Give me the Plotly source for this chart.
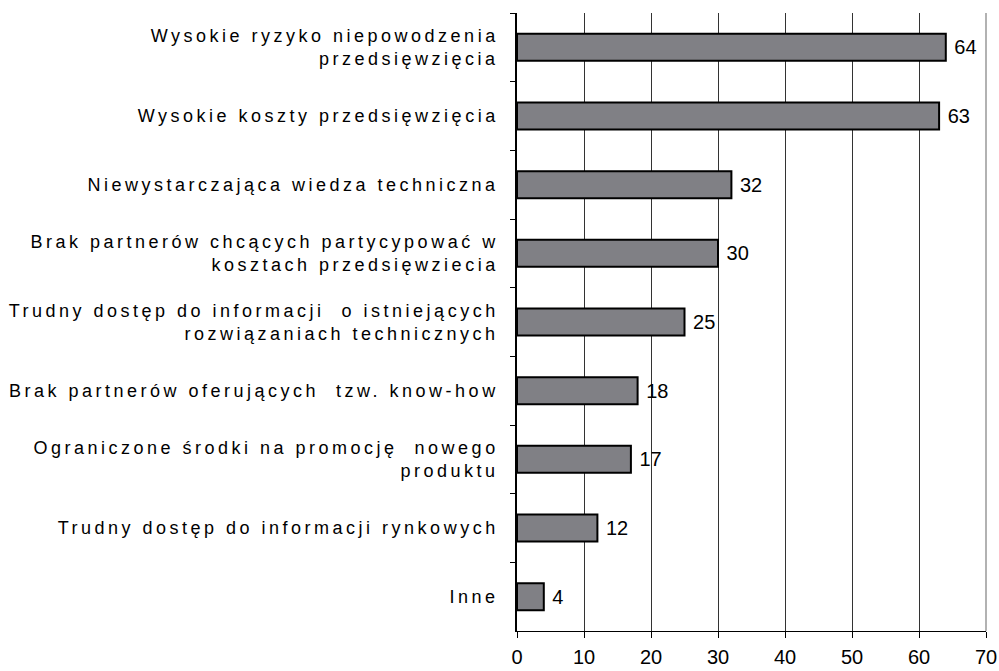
import plotly.graph_objects as go

categories = [
    "Wysokie ryzyko niepowodzenia<br>przedsięwzięcia",
    "Wysokie koszty przedsięwzięcia",
    "Niewystarczająca wiedza techniczna",
    "Brak partnerów chcących partycypować w<br>kosztach przedsięwziecia",
    "Trudny dostęp do informacji  o istniejących<br>rozwiązaniach technicznych",
    "Brak partnerów oferujących  tzw. know-how",
    "Ograniczone środki na promocję  nowego<br>produktu",
    "Trudny dostęp do informacji rynkowych",
    "Inne",
]
values = [64, 63, 32, 30, 25, 18, 17, 12, 4]
x_ticks = [0, 10, 20, 30, 40, 50, 60, 70]

FONT = "Liberation Sans, Arial, sans-serif"

fig = go.Figure(
    go.Bar(
        x=values,
        y=categories,
        orientation="h",
        marker=dict(color="#808085", line=dict(color="#000000", width=2)),
        text=[" " + str(v) for v in values],
        textposition="outside",
        textfont=dict(family=FONT, size=20, color="#000"),
        cliponaxis=False,
        hoverinfo="skip",
    )
)

fig.update_layout(
    width=999,
    height=671,
    margin=dict(l=517, r=13, t=13, b=40),
    paper_bgcolor="white",
    plot_bgcolor="white",
    bargap=0.607,
    showlegend=False,
    font=dict(family=FONT, color="#000"),
    shapes=[
        dict(type="line", xref="paper", yref="paper", x0=1, x1=1, y0=0, y1=1,
             line=dict(color="#999999", width=1.5)),
    ],
)

fig.update_xaxes(
    range=[0, 70],
    tickvals=x_ticks,
    ticktext=[str(t) for t in x_ticks],
    showgrid=True,
    gridcolor="#333333",
    gridwidth=1,
    showline=True,
    linecolor="#000",
    linewidth=1,
    ticks="outside",
    ticklen=6,
    tickcolor="#000",
    tickfont=dict(size=20),
    ticklabelstandoff=2,
    zeroline=False,
    automargin=False,
)

fig.update_yaxes(
    autorange="reversed",
    showline=True,
    linecolor="#000",
    linewidth=1.5,
    ticks="outside",
    tickson="boundaries",
    ticklen=5,
    tickcolor="#000",
    tickfont=dict(size=18),
    ticklabelstandoff=13,
    automargin=False,
)

post = """
document.body.style.margin = '0';
document.body.style.overflow = 'hidden';
var gd = document.getElementById('{plot_id}');
function spaceLabels(){
  gd.querySelectorAll('.ytick text').forEach(function(t){ t.style.letterSpacing = '3.5px'; });
}
spaceLabels();
if (gd.on) { gd.on('plotly_afterplot', spaceLabels); }
"""

fig.write_html("out.html", post_script=post, config={"displayModeBar": False})
